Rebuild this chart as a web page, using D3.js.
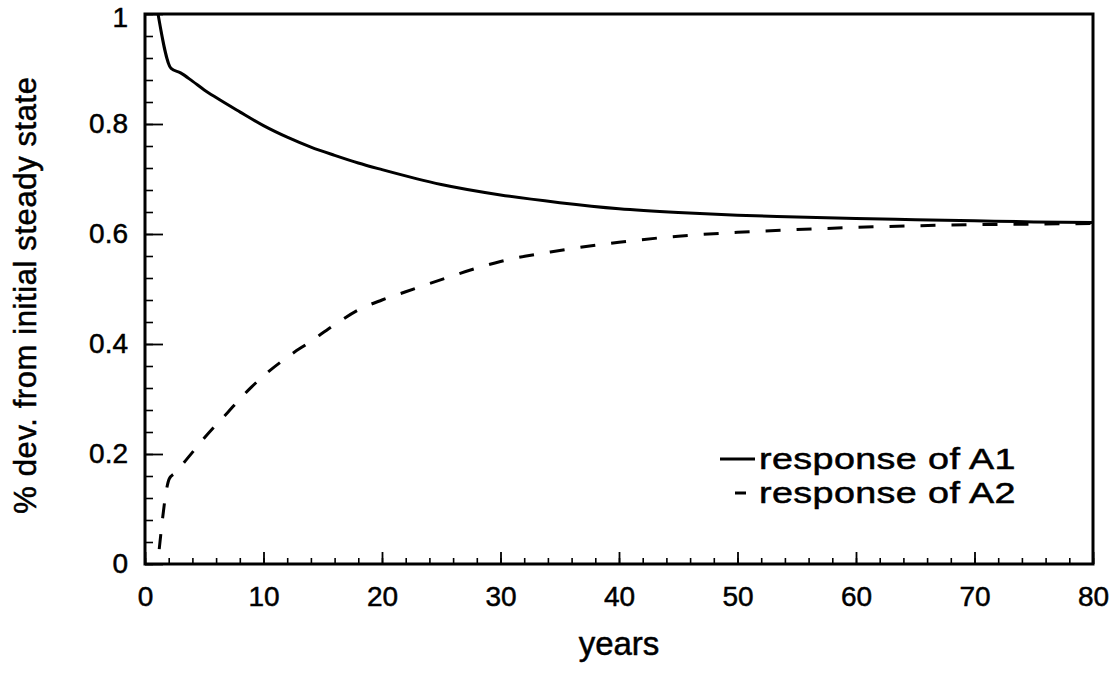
<!DOCTYPE html>
<html>
<head>
<meta charset="utf-8">
<script src="https://cdn.jsdelivr.net/npm/d3@7"></script>
<style>
  body { margin: 0; background: #fff; }
  text { font-family: "Liberation Sans", Arial, sans-serif; fill: #000; stroke: #000; stroke-width: 0.5px; }
</style>
</head>
<body>
<div id="chart"></div>
<script>
// values
let yearsA1 = [1.1, 2.2, 3, 4, 5, 6, 8, 10, 12, 14, 16, 18, 20, 25, 30, 35, 40, 45, 50, 55, 60, 65, 70, 75, 80];
let valuesA1 = [1.0, 0.901, 0.893, 0.878, 0.862, 0.848, 0.822, 0.797, 0.776, 0.758, 0.743, 0.729, 0.717, 0.69, 0.671, 0.657, 0.646, 0.639, 0.634, 0.631, 0.628, 0.626, 0.624, 0.622, 0.621];
let yearsA2 = [1.2, 2.05, 2.5, 3, 4, 5, 6, 7, 8, 9, 10, 12, 14, 16, 18, 20, 22, 25, 28, 30, 35, 40, 45, 50, 55, 60, 65, 70, 75, 80];
let valuesA2 = [0.027, 0.155, 0.165, 0.177, 0.203, 0.229, 0.253, 0.276, 0.3, 0.322, 0.342, 0.376, 0.405, 0.435, 0.462, 0.48, 0.495, 0.517, 0.538, 0.55, 0.57, 0.585, 0.596, 0.603, 0.608, 0.612, 0.615, 0.617, 0.618, 0.619];
let xMajor = [0, 10, 20, 30, 40, 50, 60, 70, 80];
let xMinor = d3.range(0, 81, 2);
let yMajor = [0, 0.2, 0.4, 0.6, 0.8, 1];
let yMinor = d3.range(0, 1.001, 0.04);
let legendLabels = ["response of A1", "response of A2"];

let width = 1115, height = 673;
let margin = { top: 14, right: 22, bottom: 109, left: 145 };

let svg = d3.select("#chart").append("svg")
    .attr("width", width)
    .attr("height", height);

let x = d3.scaleLinear().domain([0, 80]).range([margin.left, width - margin.right]);
let y = d3.scaleLinear().domain([0, 1]).range([height - margin.bottom, margin.top]);

let fmtY = function (d) { return d === 0 || d === 1 ? String(d) : d3.format(".1f")(d); };

// minor ticks, inward
svg.append("g")
    .attr("transform", "translate(0," + y(0) + ")")
    .call(d3.axisBottom(x).tickValues(xMinor).tickSize(-6).tickFormat(""))
    .call(g => g.select(".domain").remove())
    .call(g => g.selectAll("line").attr("stroke-width", 1.6));

svg.append("g")
    .attr("transform", "translate(" + x(0) + ",0)")
    .call(d3.axisLeft(y).tickValues(yMinor).tickSize(-8).tickFormat(""))
    .call(g => g.select(".domain").remove())
    .call(g => g.selectAll("line").attr("stroke-width", 1.6));

// major ticks + labels
svg.append("g")
    .attr("transform", "translate(0," + y(0) + ")")
    .call(d3.axisBottom(x).tickValues(xMajor).tickSize(-12).tickPadding(22).tickFormat(d3.format("d")))
    .call(g => g.select(".domain").remove())
    .call(g => g.selectAll("line").attr("stroke-width", 1.8))
    .call(g => g.selectAll("text").style("font-size", "28px"));

svg.append("g")
    .attr("transform", "translate(" + x(0) + ",0)")
    .call(d3.axisLeft(y).tickValues(yMajor).tickSize(-18).tickPadding(17).tickFormat(fmtY))
    .call(g => g.select(".domain").remove())
    .call(g => g.selectAll("line").attr("stroke-width", 1.8))
    .call(g => g.selectAll("text").style("font-size", "28px")
        .attr("dy", d => d === 1 ? "0.45em" : "0.32em"));

// frame
svg.append("rect")
    .attr("x", x(0))
    .attr("y", y(1))
    .attr("width", x(80) - x(0))
    .attr("height", y(0) - y(1))
    .attr("fill", "none")
    .attr("stroke", "#000")
    .attr("stroke-width", 3);

let line = d3.line()
    .x(d => x(d[0]))
    .y(d => y(d[1]))
    .curve(d3.curveMonotoneX);

svg.append("path")
    .datum(d3.zip(yearsA1, valuesA1))
    .attr("d", line)
    .attr("fill", "none")
    .attr("stroke", "#000")
    .attr("stroke-width", 3);

svg.append("path")
    .datum(d3.zip(yearsA2, valuesA2))
    .attr("d", line)
    .attr("fill", "none")
    .attr("stroke", "#000")
    .attr("stroke-width", 3)
    .attr("stroke-dasharray", "15,16");

// axis titles
svg.append("text")
    .attr("x", (x(0) + x(80)) / 2)
    .attr("y", 655)
    .attr("text-anchor", "middle")
    .style("font-size", "33px")
    .text("years");

svg.append("text")
    .attr("transform", "translate(36," + 295 + ") rotate(-90)")
    .attr("text-anchor", "middle")
    .style("font-size", "31px")
    .style("letter-spacing", "0.6px")
    .text("% dev. from initial steady state");

// legend (glyphs in the reference are set wide, so stretch horizontally)
let legend = svg.append("g").attr("transform", "translate(720,469)");
legend.append("line")
    .attr("x1", 0).attr("x2", 35).attr("y1", -10).attr("y2", -10)
    .attr("stroke", "#000").attr("stroke-width", 3);
legend.append("line")
    .attr("x1", 15).attr("x2", 26).attr("y1", 24).attr("y2", 24)
    .attr("stroke", "#000").attr("stroke-width", 3);
legend.selectAll("text.leg")
    .data(legendLabels)
    .enter().append("text")
    .attr("class", "leg")
    .attr("transform", (d, i) => "translate(39," + (i * 34) + ") scale(1.3,1)")
    .style("font-size", "29px")
    .style("letter-spacing", "0.3px")
    .text(d => d);
</script>
</body>
</html>
